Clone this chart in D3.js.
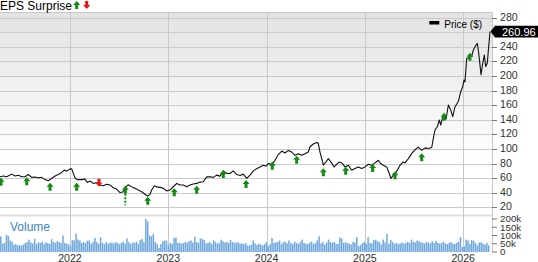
<!DOCTYPE html>
<html><head><meta charset="utf-8">
<script src="https://cdn.jsdelivr.net/npm/d3@7"></script>
<style>body{margin:0;background:#fff}svg{display:block;font-family:"Liberation Sans",Arial,sans-serif}</style>
</head><body><svg id="c" width="538" height="262"></svg>
<script>
// ---- data (dates as decimal years) ----
const priceDates = [
2021.288,2021.322,2021.356,2021.407,2021.441,2021.474,2021.509,2021.542,2021.576,2021.610,
2021.644,2021.678,2021.712,2021.746,2021.779,2021.814,2021.848,2021.881,2021.916,2021.942,
2021.967,2021.993,2022.017,2022.028,2022.051,2022.074,2022.119,2022.153,2022.176,2022.204,
2022.237,2022.272,2022.305,2022.339,2022.373,2022.407,2022.441,2022.475,2022.509,2022.536,
2022.570,2022.593,2022.628,2022.661,2022.695,2022.729,2022.763,2022.791,2022.814,2022.831,
2022.858,2022.882,2022.916,2022.949,2022.984,2023.017,2023.051,2023.086,2023.119,2023.153,
2023.187,2023.221,2023.254,2023.289,2023.323,2023.356,2023.391,2023.424,2023.458,2023.492,
2023.526,2023.560,2023.594,2023.628,2023.661,2023.696,2023.730,2023.763,2023.798,2023.831,
2023.865,2023.899,2023.933,2023.967,2023.994,2024.017,2024.052,2024.086,2024.119,2024.154,
2024.187,2024.221,2024.255,2024.289,2024.323,2024.357,2024.391,2024.424,2024.442,2024.475,
2024.510,2024.526,2024.543,2024.561,2024.577,2024.604,2024.628,2024.662,2024.686,2024.713,
2024.740,2024.764,2024.798,2024.831,2024.866,2024.899,2024.933,2024.968,2025.001,2025.035,
2025.069,2025.103,2025.136,2025.161,2025.187,2025.222,2025.248,2025.263,2025.283,2025.306,
2025.330,2025.357,2025.391,2025.408,2025.442,2025.476,2025.510,2025.543,2025.578,2025.612,
2025.645,2025.680,2025.696,2025.713,2025.737,2025.757,2025.771,2025.788,2025.805,2025.825,
2025.849,2025.873,2025.893,2025.917,2025.950,2025.975,2025.995,2026.008,2026.018,2026.036,
2026.052,2026.069,2026.087,2026.103,2026.130,2026.144,2026.158,2026.171,2026.181,2026.199,
2026.215,2026.229,2026.245,2026.259,2026.273];
const priceValues = [
61.8,63,62,65.5,63,64,62,62,65,61,
61.5,60.5,61,58,56.4,59.6,63,65,67.8,71,
69.6,72,73,68.6,60.5,58,58,58.7,54,56,
52.8,53.7,50.5,49.6,51.5,50.5,46.8,45,40.3,41,
48,51,48,46,43.7,41.4,38,35.3,38,43.7,
49.6,48,47.4,46,42.4,43.7,48.2,52.8,50.5,50.5,
48.2,50.5,51.9,52.8,54.6,55,61.8,61.8,61,64.1,
62.8,70,66.4,66.4,70,65,63.7,65.5,59.6,64.1,
70,73,75.4,77.7,76.4,80,79,84.5,92.3,97.2,
94.5,98,95.8,91.3,93.6,91.3,93.6,95.8,103,106.8,
109,107.8,95.8,86.8,77.7,82.2,86.8,80.9,75.4,79,
82.2,80.9,75.4,77.7,70.9,73.2,75.4,73.2,75.4,79,
77.7,80.9,84.5,80,77.7,75.4,66.4,59.6,62.8,66.4,
70.9,77.7,82.2,81,86.8,93.6,99,102.6,98,101.5,
100.6,102,114.5,126,130.5,139.8,132.8,142,146.6,140.8,
160.3,153.5,144.4,158,165,178.5,185.5,194.5,192,224.4,
224.4,228.9,227.5,235.7,242.5,244.8,231.2,215.3,201.7,217.5,
228.9,213,217.5,240.2,260.96];

const epsDates = [2021.298,2021.560,2021.797,2022.068,2022.295,2022.563,2022.791,2023.061,2023.289,2023.560,
                  2023.791,2024.058,2024.306,2024.577,2024.805,2025.079,2025.306,2025.578,2025.805,2026.069];
const epsMarkerValues = [60.6,61.2,53.7,53.7,48.3,49.6,34.5,46.1,49.6,71.2,
                         57.4,82.6,90.8,73.5,75.7,79.4,69.4,94.1,149.8,232.1];
const epsResults = ["beat","beat","beat","beat","miss","beat","beat","beat","beat","beat",
                    "beat","beat","beat","beat","beat","beat","beat","beat","beat","beat"];
const epsDashedIndex = 5;
const epsDashedTo = 23;

const volumeStart = 2021.288;           // weekly bars
const volumeValues = [ // thousands
95,50,55,105,98,70,62,45,48,40,42,38,45,55,60,75,58,52,80,48,
60,55,62,50,58,55,48,78,62,55,65,60,55,100,55,50,48,35,72,70,
112,75,70,55,60,55,68,70,50,62,85,60,50,90,55,48,60,50,55,58,
52,60,55,48,56,62,52,82,60,48,58,55,62,48,72,78,60,200,185,100,
95,110,60,50,25,48,65,70,68,40,55,50,85,88,55,55,50,55,62,55,
66,70,58,92,60,55,82,78,72,52,55,60,48,72,60,52,56,75,65,58,
60,55,72,60,58,55,60,50,52,48,55,40,38,45,70,52,42,50,45,40,
48,60,35,48,85,55,58,62,70,48,60,62,52,70,55,48,62,55,50,60,
75,55,50,48,58,62,48,55,70,95,52,60,45,58,75,60,55,62,50,48,
88,82,55,58,55,50,45,62,58,90,35,42,55,60,50,90,55,52,72,75,
65,60,45,75,58,110,50,72,60,50,55,48,52,58,50,55,62,55,75,62,
58,70,65,60,55,52,60,58,52,65,55,68,55,50,55,62,52,48,55,60,
50,48,55,62,90,30,35,75,70,50,72,68,55,40,58,60,50,45,55,40];

const priceTicks = [20,40,60,80,100,120,140,160,180,200,220,240,260,280];
const volumeTicks = [0,50,100,150,200];
const volumeTickLabels = ["0","50k","100k","150k","200k"];
const yearTicks = [2022,2023,2024,2025,2026];
const lastPriceLabel = "260.96";

// ---- layout ----
const svg = d3.select("#c");
const plotL = 0, plotR = 492, plotT = 12, priceB = 214, volT = 215, volB = 252;

const x = d3.scaleLinear().domain([2021.288, 2026.293]).range([plotL, plotR]);
const y = d3.scaleLinear().domain([0, 280]).range([221.9, 17.7]);
const yv = d3.scaleLinear().domain([0, 200]).range([volB, 219]);

const defs = svg.append("defs");
const grad = defs.append("linearGradient").attr("id","bg").attr("x1",0).attr("y1",0).attr("x2",0).attr("y2",1);
grad.append("stop").attr("offset","0%").attr("stop-color","#e3e3e3");
grad.append("stop").attr("offset","75%").attr("stop-color","#ffffff");
grad.append("stop").attr("offset","100%").attr("stop-color","#ffffff");

svg.append("rect").attr("x",plotL).attr("y",plotT).attr("width",plotR-plotL).attr("height",priceB-plotT).attr("fill","url(#bg)");
svg.append("rect").attr("x",plotL).attr("y",volT-0.5).attr("width",plotR-plotL).attr("height",2).attr("fill","#e0e0e0");

svg.append("g").selectAll("line").data(priceTicks).join("line")
  .attr("x1",plotL).attr("x2",plotR)
  .attr("y1",d=>Math.round(y(d))+0.5).attr("y2",d=>Math.round(y(d))+0.5)
  .attr("stroke","#cbcbcb").attr("stroke-width",1);
svg.append("line").attr("x1",plotL).attr("x2",plotR).attr("y1",plotT+0.5).attr("y2",plotT+0.5).attr("stroke","#c8c8c8");
svg.append("g").selectAll("line").data(yearTicks).join("line")
  .attr("x1",d=>Math.round(x(d))+0.5).attr("x2",d=>Math.round(x(d))+0.5)
  .attr("y1",plotT).attr("y2",volB)
  .attr("stroke","#c8c8c8");
svg.append("line").attr("x1",plotR+0.5).attr("x2",plotR+0.5).attr("y1",plotT).attr("y2",volB).attr("stroke","#c8c8c8");

// volume bars
const weekYears = 7/365.25;
svg.append("g").selectAll("rect").data(volumeValues).join("rect")
  .attr("x",(v,i)=>x(volumeStart + i*weekYears))
  .attr("y",v=>yv(v)).attr("width",1.5).attr("height",v=>volB-yv(v))
  .attr("fill","#6fa8dc");

svg.append("text").attr("x",10).attr("y",231).attr("font-size",12).attr("fill","#3d85c6").text("Volume");

// price line
const pts = priceDates.map((d,i)=>[d, priceValues[i]]);
svg.append("path").datum(pts)
  .attr("d", d3.line().x(d=>x(d[0])).y(d=>y(d[1])))
  .attr("fill","none").attr("stroke","#111").attr("stroke-width",1.1).attr("stroke-linejoin","round");

function arrowUp(cx, ty){
  return `M${cx},${ty} L${cx+3.5},${ty+4} L${cx+1.5},${ty+4} L${cx+1.5},${ty+8} L${cx-1.5},${ty+8} L${cx-1.5},${ty+4} L${cx-3.5},${ty+4} Z`;
}
function arrowDown(cx, by){
  return `M${cx},${by} L${cx+3.5},${by-4} L${cx+1.5},${by-4} L${cx+1.5},${by-8} L${cx-1.5},${by-8} L${cx-1.5},${by-4} L${cx-3.5},${by-4} Z`;
}
const green = "#118c11", red = "#f01010";
const eps = svg.append("g");
epsDates.forEach((d,i)=>{
  const cx = x(d), ty = y(epsMarkerValues[i]);
  if (i === epsDashedIndex) {
    eps.append("line").attr("x1",cx).attr("x2",cx).attr("y1",ty+8).attr("y2",y(epsDashedTo))
      .attr("stroke",green).attr("stroke-width",2).attr("stroke-dasharray","2,1.5");
  }
  if (epsResults[i] === "beat") eps.append("path").attr("d",arrowUp(cx,ty)).attr("fill",green);
  else eps.append("path").attr("d",arrowDown(cx,ty)).attr("fill",red);
});

// last price tag geometry
const lastV = priceValues[priceValues.length-1];
const tY = y(lastV);

// right axis
const ax = svg.append("g");
priceTicks.forEach(t=>{
  const ty = Math.round(y(t))+0.5;
  ax.append("line").attr("x1",plotR).attr("x2",plotR+5).attr("y1",ty).attr("y2",ty).attr("stroke","#777");
  if (Math.abs(ty - tY) > 8)
    ax.append("text").attr("x",500).attr("y",ty+2.5).attr("font-size",10.6).attr("fill","#333").text(d3.format("d")(t));
});
volumeTicks.forEach((t,i)=>{
  const ty = yv(t);
  ax.append("line").attr("x1",plotR).attr("x2",plotR+5).attr("y1",ty).attr("y2",ty).attr("stroke","#777");
  ax.append("text").attr("x",500).attr("y",ty+3.4).attr("font-size",9.8).attr("fill","#333").text(volumeTickLabels[i]);
});
yearTicks.forEach(t=>{
  ax.append("text").attr("x",x(t)).attr("y",261.5).attr("text-anchor","middle").attr("font-size",10.6).attr("fill","#333").text(d3.format("d")(t));
});

svg.append("path").attr("d",`M490.5,${tY} L495,${tY-5.8} L538,${tY-5.8} L538,${tY+5.8} L495,${tY+5.8} Z`).attr("fill","#000");
svg.append("text").attr("x",502).attr("y",tY+4).attr("font-size",11).attr("fill","#fff").text(lastPriceLabel);

// legend
svg.append("rect").attr("x",429.3).attr("y",21).attr("width",10).attr("height",3.5).attr("fill","#000");
svg.append("text").attr("x",444.3).attr("y",27.5).attr("font-size",10).attr("fill","#000").text("Price ($)");

svg.append("text").attr("x",0).attr("y",9.8).attr("font-size",12).attr("fill","#000").text("EPS Surprise");
svg.append("path").attr("d",arrowUp(76.7,1)).attr("fill",green);
svg.append("path").attr("d",arrowDown(86.7,9)).attr("fill",red);
</script></body></html>
